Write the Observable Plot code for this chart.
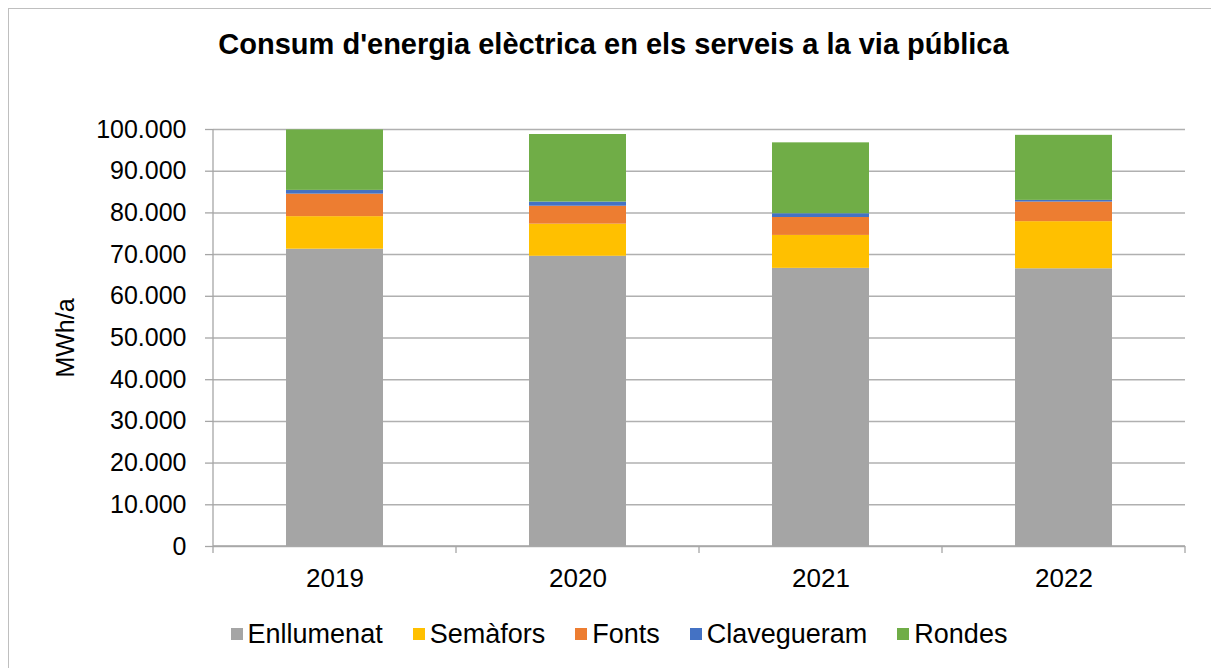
<!DOCTYPE html>
<html>
<head>
<meta charset="utf-8">
<script src="https://cdn.jsdelivr.net/npm/d3@7"></script>
<script src="https://cdn.jsdelivr.net/npm/@observablehq/plot@0.6"></script>
<style>
  html, body { margin: 0; padding: 0; background: #fff; }
  body { width: 1211px; height: 668px; overflow: hidden; position: relative; font-family: Arial, "Liberation Sans", sans-serif; }
  #frame { position: absolute; left: 8px; top: 8px; width: 1400px; height: 900px; border-left: 1px solid #bfbfbf; border-top: 1px solid #bfbfbf; pointer-events: none; }
  #title { height: 90px; line-height: 88px; text-align: center; font-weight: bold; font-size: 29px; color: #000; padding-left: 16px; white-space: nowrap; }
  #chart svg { display: block; }
  #legend { height: 68px; display: flex; align-items: center; justify-content: center; font-size: 27px; color: #000; padding-left: 27px; }
  .item { display: flex; align-items: center; margin: 0 15px; }
  .sw { width: 12px; height: 12px; margin-right: 5px; }
</style>
</head>
<body>
<div id="frame"></div>
<div id="title">Consum d'energia elèctrica en els serveis a la via pública</div>
<div id="chart"></div>
<div id="legend"></div>
<script>
const years = ["2019", "2020", "2021", "2022"];
const seriesNames = ["Enllumenat", "Semàfors", "Fonts", "Clavegueram", "Rondes"];
const seriesColors = ["#A5A5A5", "#FFC000", "#ED7D31", "#4472C4", "#70AD47"];
const enllumenat = [71300, 69600, 66700, 66600];
const semafors = [7800, 7700, 7900, 11300];
const fonts = [5400, 4300, 4300, 4700];
const clavegueram = [900, 1000, 900, 400];
const rondes = [14500, 16200, 17000, 15600];
const yTicks = [0, 10000, 20000, 30000, 40000, 50000, 60000, 70000, 80000, 90000, 100000];

const seriesValues = [enllumenat, semafors, fonts, clavegueram, rondes];
const data = [];
years.forEach((yr, i) => {
  seriesNames.forEach((s, j) => {
    data.push({ year: yr, series: s, value: seriesValues[j][i] });
  });
});

const fmt = d => d3.format(",")(d).replace(/,/g, ".");
const axisColor = "#a6a6a6";

function frameLines(index, scales, values, dimensions) {
  const { width, height, marginLeft, marginRight, marginTop, marginBottom } = dimensions;
  const g = d3.create("svg:g");
  const x0 = marginLeft, x1 = width - marginRight;
  const yb = height - marginBottom;
  const step = (x1 - x0) / years.length;
  g.append("line").attr("x1", x0).attr("x2", x0).attr("y1", marginTop).attr("y2", yb)
    .attr("stroke", axisColor).attr("stroke-width", 1.3);
  g.append("line").attr("x1", x0).attr("x2", x1).attr("y1", yb).attr("y2", yb)
    .attr("stroke", axisColor).attr("stroke-width", 1.3);
  for (let i = 0; i <= years.length; i++) {
    const xx = x0 + i * step;
    g.append("line").attr("x1", xx).attr("x2", xx).attr("y1", yb).attr("y2", yb + 7)
      .attr("stroke", axisColor).attr("stroke-width", 1.3);
  }
  return g.node();
}

const plot = Plot.plot({
  width: 1211,
  height: 510,
  marginLeft: 213,
  marginRight: 26,
  marginTop: 39,
  marginBottom: 54,
  style: { fontFamily: 'Arial, "Liberation Sans", sans-serif', fontSize: "25px", color: "#000", background: "#fff" },
  x: { domain: years, paddingInner: 0.6, paddingOuter: 0.3, label: null },
  y: { domain: [0, 100000], label: null },
  color: { domain: seriesNames, range: seriesColors },
  marks: [
    Plot.gridY(yTicks, { stroke: "#b0b0b0", strokeOpacity: 1, strokeWidth: 1.5 }),
    Plot.barY(data, { x: "year", y: "value", fill: "series", order: seriesNames }),
    frameLines,
    Plot.axisY(yTicks, { tickFormat: fmt, tickSize: 8, tickPadding: 19, stroke: axisColor, strokeWidth: 1.3, fontSize: 25, fill: "#000", label: null }),
    Plot.axisX({ tickSize: 0, tickPadding: 22, fontSize: 26, fill: "#000", label: null }),
    Plot.text(["MWh/a"], { frameAnchor: "left", dx: -148, rotate: -90, fontSize: 25, fill: "#000", textAnchor: "middle" })
  ]
});
document.getElementById("chart").appendChild(plot);

const legend = document.getElementById("legend");
seriesNames.forEach((s, j) => {
  const it = document.createElement("div");
  it.className = "item";
  const sw = document.createElement("div");
  sw.className = "sw";
  sw.style.background = seriesColors[j];
  const t = document.createElement("span");
  t.textContent = s;
  it.appendChild(sw);
  it.appendChild(t);
  legend.appendChild(it);
});
</script>
</body>
</html>
